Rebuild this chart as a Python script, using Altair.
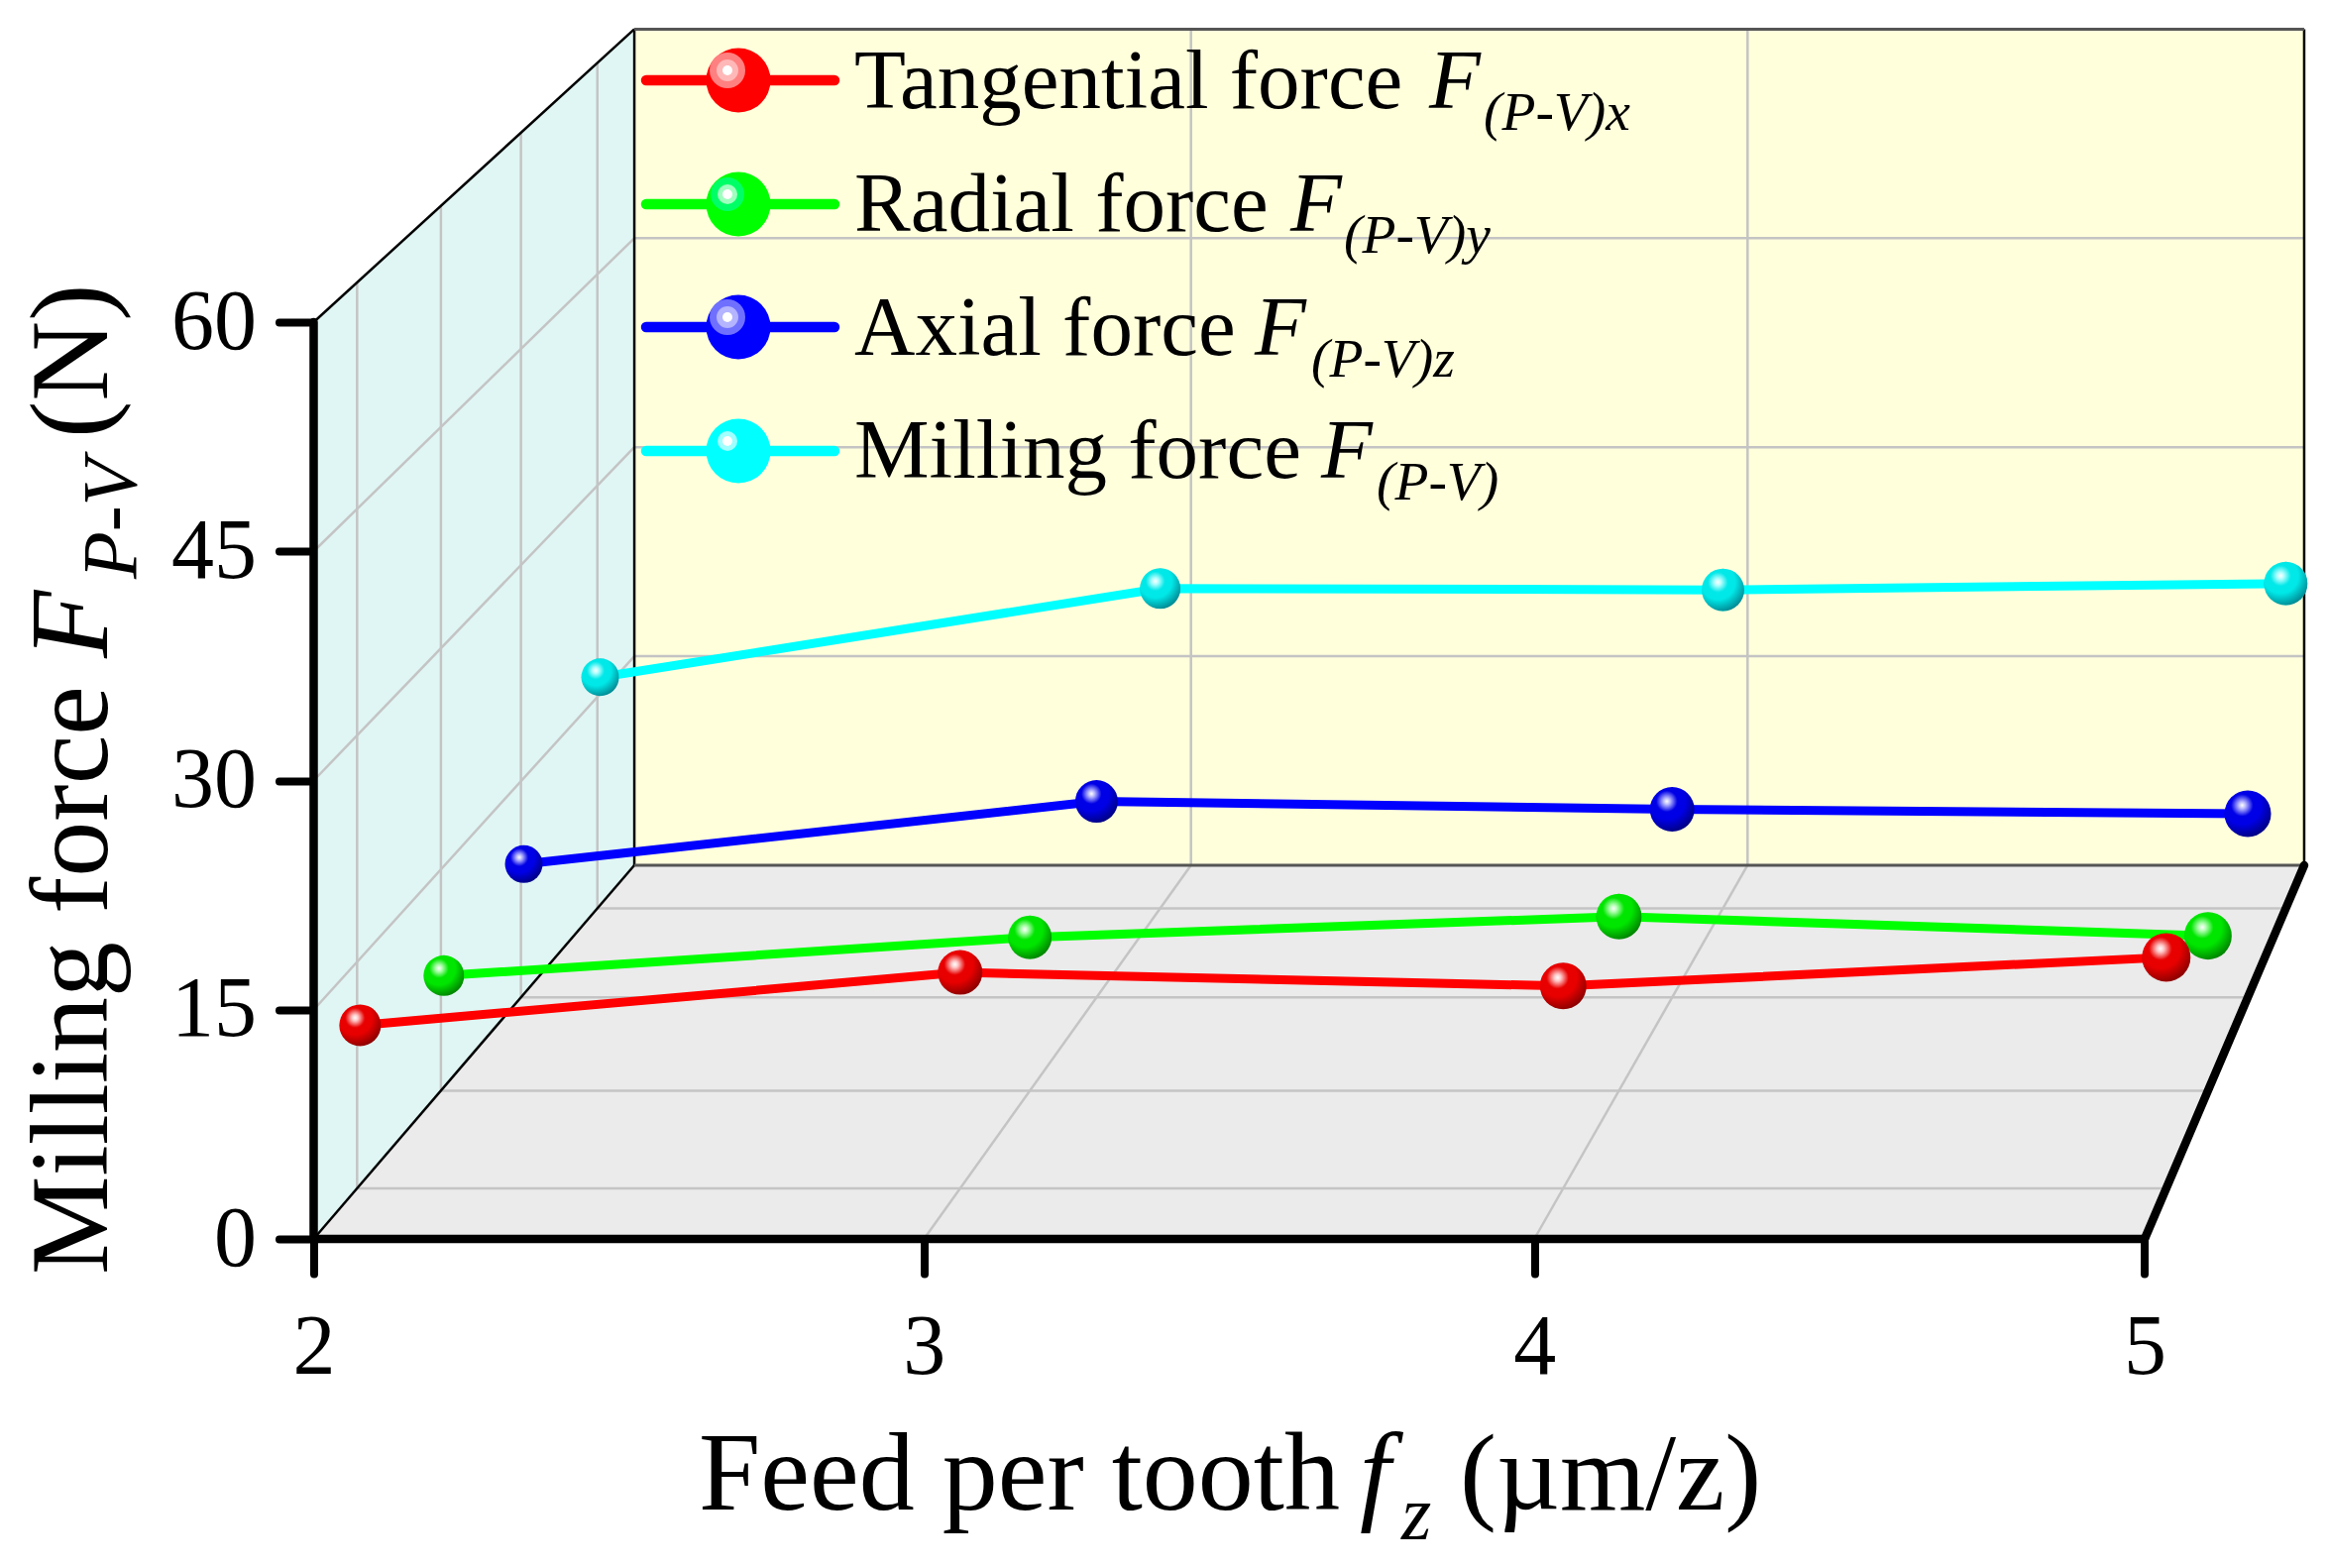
import altair as alt
import pandas as pd

# ---- values -----------------------------------------------------------
FEED = [2.005, 3, 4, 5]
TANGENTIAL = [10.8, 14.3, 13.4, 15.3]
RADIAL = [7.8, 10.4, 11.8, 10.5]
AXIAL = [9.25, 13.6, 13.05, 12.75]
MILLING = [16.4, 22.7, 22.6, 23.05]
Y_TICKS = [0, 15, 30, 45, 60]
X_TICKS = [2, 3, 4, 5]
GRID_X = [3, 4]
GRID_Y = [15, 30, 45]
DEPTHS = [0.125, 0.375, 0.625, 0.875]

# ---- layout / perspective (page pixels) -------------------------------
PX_LEFT, PX_TOP = 316.5, 30
PX_W, PX_H = 2011, 1220
U_X = 615.83   # px per feed unit on the front plane
U_Y = 925 / 60  # px per newton on the front plane
X_DOM = [2, 2 + PX_W / U_X]
Y_DOM = [0, PX_H / U_Y]
K = 0.0965
VX = 2 + (3993 - PX_LEFT) / U_X   # vanishing point in front-plane data units
VY = (1250 + 3034) / U_Y
FONT = "Liberation Serif"

sx = alt.Scale(domain=X_DOM, nice=False, zero=False)
sy = alt.Scale(domain=Y_DOM, nice=False, zero=False)

AX_COMMON = dict(
    domain=False, grid=False, tickSize=35, tickWidth=8, tickColor="black",
    tickCap="round", labelFont=FONT, labelFontSize=86, labelColor="black",
    labelFlush=False, labelOverlap=False, labelBound=False, format="d",
)
AX_X = alt.Axis(values=X_TICKS, labelPadding=32, **AX_COMMON)
AX_Y = alt.Axis(values=Y_TICKS, labelPadding=23, **AX_COMMON)


def proj(fz, force, d):
    s = 1 / (1 + K * d)
    return VX + (fz - VX) * s, VY + (force - VY) * s


def X(f="x"):
    return alt.X(f"{f}:Q", scale=sx, axis=AX_X, title=None)


def Y(f="y"):
    return alt.Y(f"{f}:Q", scale=sy, axis=AX_Y, title=None)


def seg(a, b):
    return {"x": a[0], "y": a[1], "x2": b[0], "y2": b[1]}


def rules(segs, color, width, cap="butt"):
    return alt.Chart(pd.DataFrame(segs)).mark_rule(
        color=color, strokeWidth=width, strokeCap=cap
    ).encode(x=X(), y=Y(), x2="x2:Q", y2="y2:Q")


layers = []

# ---- walls ------------------------------------------------------------
tl, tr = proj(2, 60, 1), proj(5, 60, 1)
bl, br = proj(2, 0, 1), proj(5, 0, 1)
fl, fr = proj(2, 0, 0), proj(5, 0, 0)
ftl = proj(2, 60, 0)

back = pd.DataFrame([
    {"x": tl[0], "y": tl[1], "y2": bl[1]},
    {"x": tr[0], "y": tr[1], "y2": br[1]},
])
layers.append(
    alt.Chart(back).mark_area(color="#FFFFDC", opacity=1, orient="vertical").encode(
        x=X(), y=Y(), y2="y2:Q"
    )
)
side = pd.DataFrame([
    {"x": ftl[0], "y": ftl[1], "y2": fl[1]},
    {"x": tl[0], "y": tl[1], "y2": bl[1]},
])
layers.append(
    alt.Chart(side).mark_area(color="#E0F6F4", opacity=1, orient="vertical").encode(
        x=X(), y=Y(), y2="y2:Q"
    )
)
floor = pd.DataFrame([
    {"y": fl[1], "x": fl[0], "x2": fr[0]},
    {"y": bl[1], "x": bl[0], "x2": br[0]},
])
layers.append(
    alt.Chart(floor).mark_area(color="#EBEBEB", opacity=1, orient="horizontal").encode(
        y=Y(), x=X(), x2="x2:Q"
    )
)

# ---- grid -------------------------------------------------------------
grid = []
for v in GRID_X:
    grid.append(seg(proj(v, 0, 1), proj(v, 60, 1)))   # back wall verticals
    grid.append(seg(proj(v, 0, 0), proj(v, 0, 1)))    # floor lines along depth
for v in GRID_Y:
    grid.append(seg(proj(2, v, 1), proj(5, v, 1)))    # back wall horizontals
    grid.append(seg(proj(2, v, 0), proj(2, v, 1)))    # side wall slants
for d in DEPTHS:
    grid.append(seg(proj(2, 0, d), proj(2, 60, d)))   # side wall verticals
    grid.append(seg(proj(2, 0, d), proj(5, 0, d)))    # floor cross lines
layers.append(rules(grid, "#C4C4C4", 2.5))

# ---- frame ------------------------------------------------------------
layers.append(rules([seg(ftl, tl), seg(fl, bl), seg(bl, tl), seg(br, tr)], "#000000", 2.5))
layers.append(rules([seg(tl, tr), seg(bl, br)], "#555555", 3))
layers.append(rules([seg(fl, ftl), seg(fl, fr), seg(fr, br)], "#000000", 8.5, "round"))

# ---- series -----------------------------------------------------------
SERIES = [
    ("#00FFFF", MILLING, DEPTHS[3], "#00E8E8", "#007F8A", "#B8FFFF", [38, 41, 43, 44]),
    ("#0000FF", AXIAL, DEPTHS[2], "#0000E6", "#000078", "#B8B8FF", [38, 43, 45, 47]),
    ("#00FF00", RADIAL, DEPTHS[1], "#00E600", "#007800", "#B8FFB8", [41, 44, 46, 48]),
    ("#FF0000", TANGENTIAL, DEPTHS[0], "#E80000", "#800000", "#FFC8C8", [42, 45, 47, 49]),
]
for line_col, vals, d, col, dark, pale, diam in SERIES:
    pts = [proj(f, v, d) for f, v in zip(FEED, vals)]
    df = pd.DataFrame({
        "x": [p[0] for p in pts],
        "y": [p[1] for p in pts],
        "s": [q * q for q in diam],
    })
    layers.append(
        alt.Chart(df).mark_line(color=line_col, strokeWidth=9).encode(x=X(), y=Y())
    )
    grad = {
        "gradient": "radial",
        "x1": 0.38, "y1": 0.32, "r1": 0,
        "x2": 0.38, "y2": 0.32, "r2": 0.74,
        "stops": [
            {"offset": 0, "color": "#FFFFFF"},
            {"offset": 0.1, "color": pale},
            {"offset": 0.32, "color": col},
            {"offset": 0.55, "color": col},
            {"offset": 1, "color": dark},
        ],
    }
    layers.append(
        alt.Chart(df).mark_point(filled=True, fill=grad, opacity=1, shape="circle").encode(
            x=X(), y=Y(), size=alt.Size("s:Q", scale=None, legend=None)
        )
    )


# ---- legend (fixed page positions) ------------------------------------
def px(v):
    return alt.value(v - PX_LEFT)


def py(v):
    return alt.value(v - PX_TOP)


def label(txt, x, y, size, italic=False, angle=0):
    kw = {"angle": angle} if angle else {}
    return alt.Chart(pd.DataFrame({"t": [txt]})).mark_text(
        font=FONT, fontSize=size, fontStyle="italic" if italic else "normal",
        color="black", align="left", baseline="alphabetic", **kw
    ).encode(x=px(x), y=py(y), text="t:N")


def disc(x, y, r, color):
    return alt.Chart(pd.DataFrame({"k": [0]})).mark_point(
        filled=True, color=color, opacity=1, shape="circle", size=(2 * r) ** 2
    ).encode(x=px(x), y=py(y))


LEGEND = [
    ("Tangential force ", "(P-V)x", 81, 108.6, 1442, 1497, "#FF0000",
     [(18, "#FF8080"), (11, "#FFB8B8"), (5, "#FFFFFF")]),
    ("Radial force ", "(P-V)y", 206, 232.8, 1302, 1356, "#00FF00",
     [(17, "#00FF66"), (10, "#A0FFC0"), (5, "#FFFFFF")]),
    ("Axial force ", "(P-V)z", 330, 357.6, 1266, 1323, "#0000FF",
     [(18, "#7070FF"), (11, "#B4B4FF"), (5, "#FFFFFF")]),
    ("Milling force ", "(P-V)", 455, 481.7, 1333, 1389, "#00FFFF",
     [(10, "#A0FFFF"), (5, "#FFFFFF")]),
]
for main, sub, ly, base, fx, sbx, col, rings in LEGEND:
    layers.append(
        alt.Chart(pd.DataFrame({"k": [0]})).mark_rule(
            color=col, strokeWidth=10.5, strokeCap="round"
        ).encode(x=px(652), x2=px(842), y=py(ly))
    )
    layers.append(disc(745, ly, 32.5, col))
    for r, c in rings:
        layers.append(disc(734, ly - 10, r, c))
    layers.append(label(main.strip(), 862, base, 85))
    layers.append(label("F", fx, base, 85, italic=True))
    layers.append(label(sub, sbx, base + 22.5, 55.5, italic=True))

# ---- axis titles ------------------------------------------------------
layers.append(label("Feed per tooth", 705, 1523, 112))
layers.append(label("f", 1372, 1523, 112, italic=True))
layers.append(label("z", 1414, 1553, 78, italic=True))
layers.append(label("(µm/z)", 1473, 1523, 111))
layers.append(label("Milling force", 108, 1286, 112, angle=270))
layers.append(label("F", 108, 664, 112, italic=True, angle=270))
layers.append(label("P-V", 137, 584, 78, italic=True, angle=270))
layers.append(label("(N)", 108, 442, 112, angle=270))

chart = alt.layer(*layers).properties(
    width=PX_W, height=PX_H,
    autosize=alt.AutoSizeParams(type="none"),
    padding={"left": PX_LEFT - 8, "top": PX_TOP - 8, "right": 10, "bottom": 320},
    background="white",
).configure_view(stroke=None)

chart.save("out.html", embed_options={"renderer": "svg", "actions": False})
